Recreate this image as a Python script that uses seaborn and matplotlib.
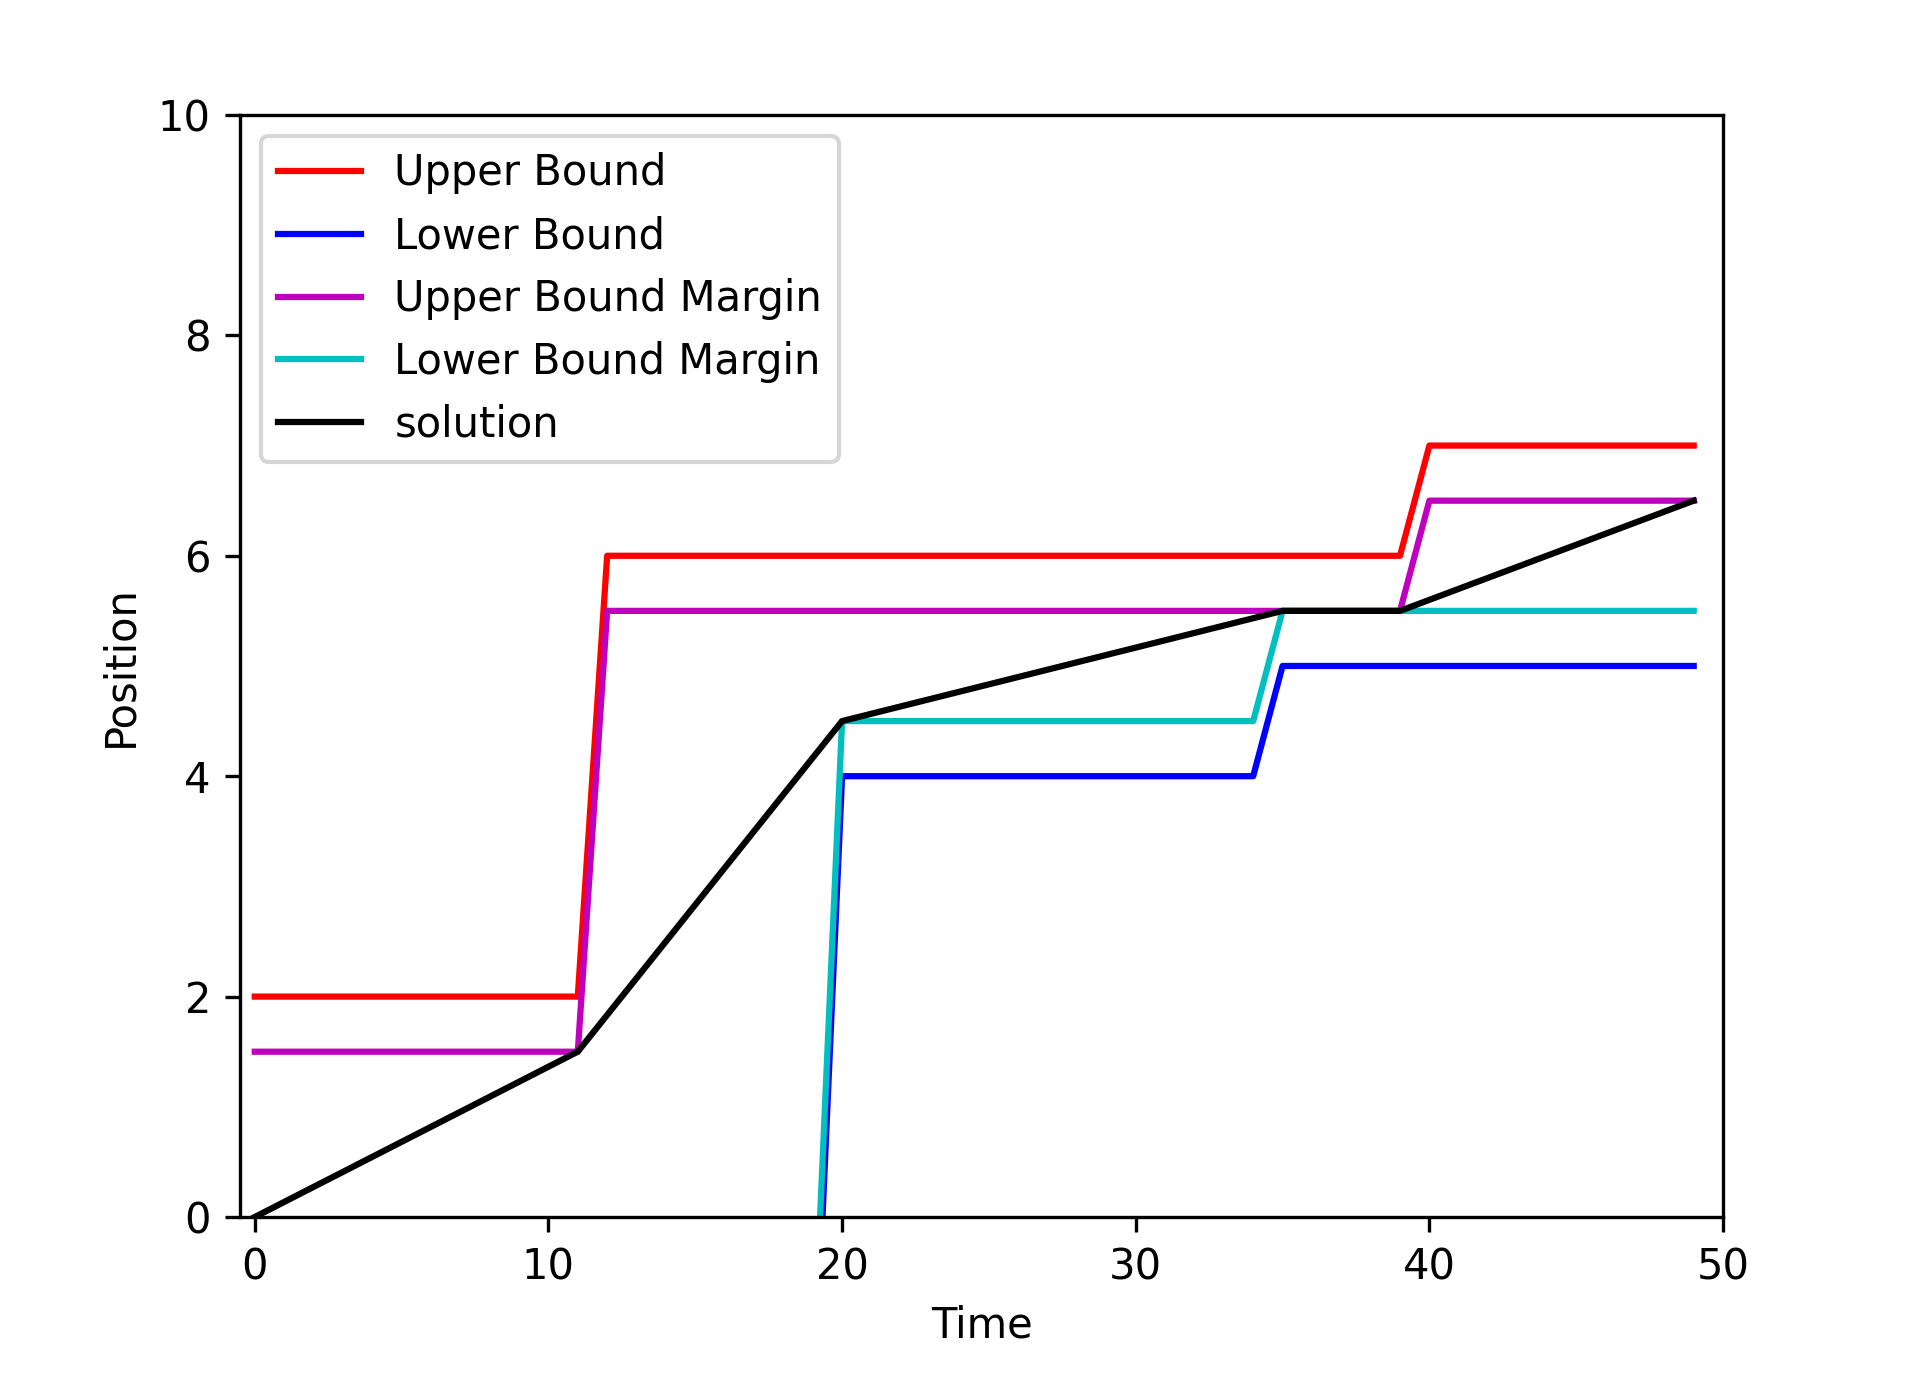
import numpy as np
import pandas as pd
import seaborn as sns
import matplotlib
matplotlib.use('Agg')
import matplotlib.pyplot as plt

# === data ===
ub_t = [0, 11, 12, 39, 40, 49]
ub_y = [2.0, 2.0, 6.0, 6.0, 7.0, 7.0]

lb_t = [0, 19, 20, 34, 35, 49]
lb_y = [-2.0, -2.0, 4.0, 4.0, 5.0, 5.0]

ubm_t = [0, 11, 12, 39, 40, 49]
ubm_y = [1.5, 1.5, 5.5, 5.5, 6.5, 6.5]

lbm_t = [0, 19, 20, 34, 35, 49]
lbm_y = [-1.5, -1.5, 4.5, 4.5, 5.5, 5.5]

sol_t = [0, 11, 20, 35, 39, 49]
sol_y = [0.0, 1.5, 4.5, 5.5, 5.5, 6.5]

series = [
    (ub_t, ub_y, 'r', 'Upper Bound'),
    (lb_t, lb_y, 'b', 'Lower Bound'),
    (ubm_t, ubm_y, 'm', 'Upper Bound Margin'),
    (lbm_t, lbm_y, 'c', 'Lower Bound Margin'),
    (sol_t, sol_y, 'k', 'solution'),
]

# === plot ===
plt.rcParams['font.family'] = ['DejaVu Sans']
fig, ax = plt.subplots(figsize=(1913 / 300, 1375 / 300), dpi=300)
fig.subplots_adjust(left=0.1255, right=0.9007, bottom=0.1149, top=0.9164)

for t, y, c, lab in series:
    df = pd.DataFrame({'t': t, 'y': y})
    sns.lineplot(data=df, x='t', y='y', color=c, label=lab,
                 estimator=None, linewidth=1.5, ax=ax)

ax.set_xlim(-0.5, 50)
ax.set_ylim(0, 10)
ax.set_xlabel('Time')
ax.set_ylabel('Position')
ax.legend(loc='upper left')

fig.savefig('out.png', dpi=300)
